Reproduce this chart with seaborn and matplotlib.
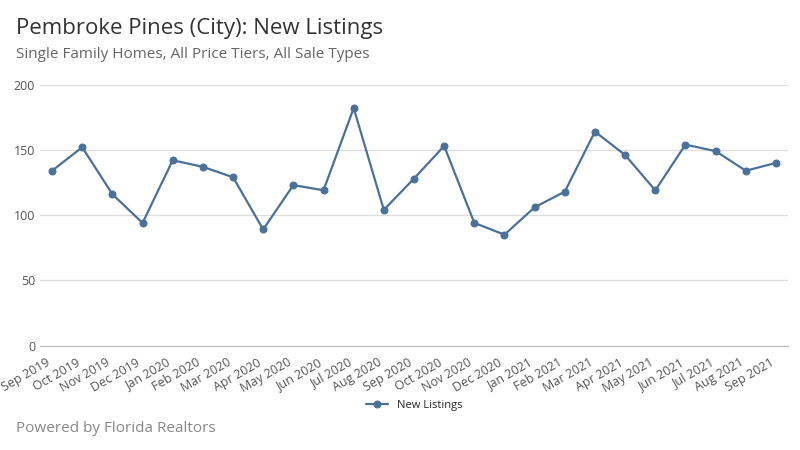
import matplotlib
matplotlib.use("Agg")
import matplotlib.pyplot as plt
import seaborn as sns
import pandas as pd

months = ["Sep 2019","Oct 2019","Nov 2019","Dec 2019","Jan 2020","Feb 2020","Mar 2020","Apr 2020",
          "May 2020","Jun 2020","Jul 2020","Aug 2020","Sep 2020","Oct 2020","Nov 2020","Dec 2020",
          "Jan 2021","Feb 2021","Mar 2021","Apr 2021","May 2021","Jun 2021","Jul 2021","Aug 2021","Sep 2021"]
new_listings = [134,152,116,94,142,137,129,89,123,119,182,104,128,153,94,85,106,118,164,146,119,154,149,134,140]
yticks = [0, 50, 100, 150, 200]

sns.set_style("white")
plt.rcParams['font.family'] = ['Open Sans', 'DejaVu Sans']

df = pd.DataFrame({"month": months, "x": range(len(months)), "v": new_listings})
fig = plt.figure(figsize=(8, 4.5), dpi=100)
ax = fig.add_axes([0.05, 0.232, 0.935, 0.58])
color = "#4b7198"
sns.lineplot(data=df, x="x", y="v", ax=ax, color=color, marker="o", markersize=5,
             markeredgecolor=color, linewidth=1.6, label="New Listings")
ax.set_ylim(0, 200)
ax.set_yticks(yticks)
ax.set_xlim(-0.4, len(months) - 0.6)
ax.set_xticks(range(len(months)))
ax.set_xticklabels(months, rotation=30, ha="right", fontsize=9, color="#555555")
ax.tick_params(axis="y", labelsize=9, colors="#555555", length=0)
ax.tick_params(axis="x", length=4, color="#cccccc")
ax.grid(axis="y", color="#dddddd", linewidth=0.9)
ax.set_xlabel(""); ax.set_ylabel("")
for s in ["top", "right", "left"]:
    ax.spines[s].set_visible(False)
ax.spines["bottom"].set_color("#bbbbbb")
leg = ax.legend(loc="upper center", bbox_to_anchor=(0.5, -0.17), frameon=False, fontsize=8)
fig.text(0.02, 0.925, "Pembroke Pines (City): New Listings", fontsize=16, color="#333333")
fig.text(0.02, 0.87, "Single Family Homes, All Price Tiers, All Sale Types", fontsize=11, color="#666666")
fig.text(0.02, 0.04, "Powered by Florida Realtors", fontsize=11, color="#888888")
fig.savefig("out.png", dpi=100)
